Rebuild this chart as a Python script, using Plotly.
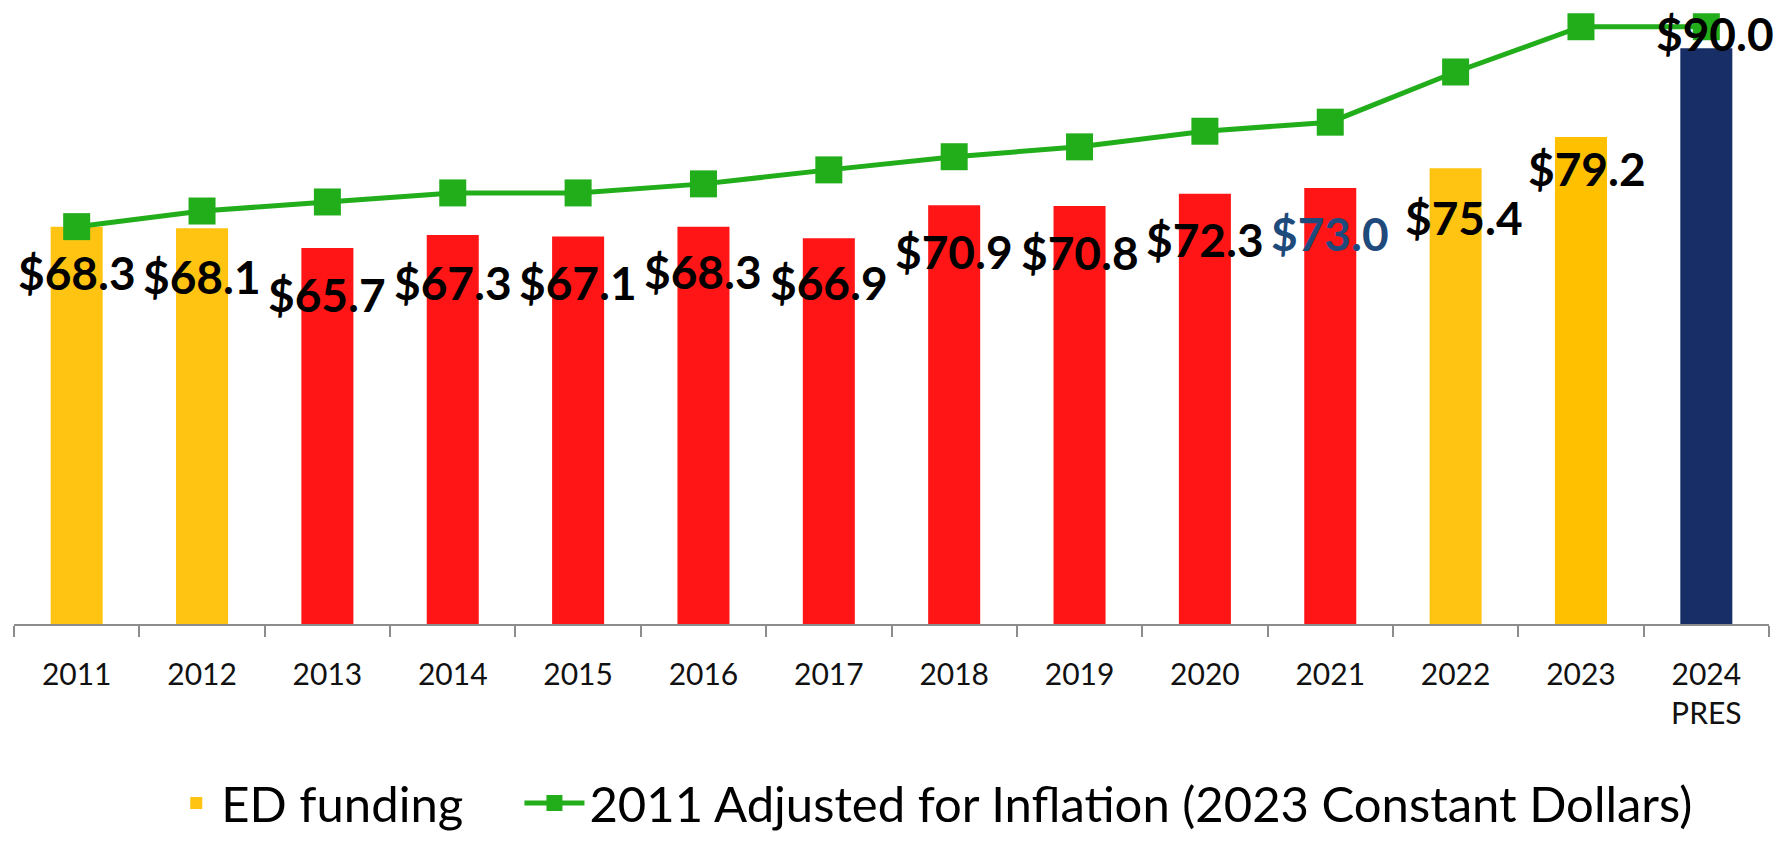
import plotly.graph_objects as go

years = ["2011", "2012", "2013", "2014", "2015", "2016", "2017",
         "2018", "2019", "2020", "2021", "2022", "2023", "2024<br>PRES"]
ed_funding = [68.3, 68.1, 65.7, 67.3, 67.1, 68.3, 66.9,
              70.9, 70.8, 72.3, 73.0, 75.4, 79.2, 90.0]
adjusted_2011 = [68.3, 70.2, 71.3, 72.4, 72.4, 73.5, 75.2,
                 76.8, 78.0, 79.9, 81.0, 87.1, 92.6, 92.6]

# styling
GOLD, RED, NAVY = "#FFC312", "#FF1515", "#172F66"
bar_colors = [GOLD, GOLD, RED, RED, RED, RED, RED, RED, RED, RED, RED, GOLD, "#FFC000", NAVY]
label_colors = ["#000000"] * 10 + ["#1F4A7C"] + ["#000000"] * 3
label_yshift = [-46, -48, -46, -48, -46, -45, -44, -46, -46, -46, -46, -49, -32, 15]
label_xshift = [0, 0, 0, 0, 0, 0, 0, 0, 0, 0, 0, 8, 6, 9]
FONT = "Lato"

fig = go.Figure()
fig.add_trace(go.Bar(
    x=years, y=ed_funding, name="ED funding",
    marker=dict(color=bar_colors, line=dict(width=0)),
    legend="legend",
))
fig.add_trace(go.Scatter(
    x=years, y=adjusted_2011, mode="lines+markers",
    name="2011 Adjusted for Inflation (2023 Constant Dollars)",
    line=dict(color="#22AD1B", width=5),
    marker=dict(symbol="square", size=27, color="#22AD1B"),
    legend="legend2",
))

for i, v in enumerate(ed_funding):
    fig.add_annotation(
        x=i, y=v, text=f"<b>${v:.1f}</b>", showarrow=False,
        xanchor="center", yanchor="middle",
        yshift=label_yshift[i], xshift=label_xshift[i],
        font=dict(family=FONT, size=46, color=label_colors[i]),
    )

legend_font = dict(family=FONT, size=49, color="#000000")
fig.update_layout(
    width=1784, height=841,
    margin=dict(l=14, r=15, t=7, b=217, autoexpand=False),
    paper_bgcolor="white", plot_bgcolor="white",
    bargap=0.585,
    showlegend=True,
    legend=dict(
        orientation="h", x=0.0896, xanchor="left",
        yref="container", y=0.045, yanchor="middle",
        font=legend_font, itemwidth=40,
    ),
    legend2=dict(
        orientation="h", x=0.288, xanchor="left",
        yref="container", y=0.045, yanchor="middle",
        font=legend_font, itemwidth=60,
    ),
    font=dict(family=FONT),
)
fig.update_xaxes(
    type="category", range=[-0.5, 13.5],
    showline=True, linecolor="#8C8C8C", linewidth=1.5,
    ticks="outside", tickson="boundaries", ticklen=11, tickcolor="#8C8C8C", tickwidth=1.5,
    tickfont=dict(family=FONT, size=30, color="#111111"),
    ticklabelstandoff=23, tickangle=0,
    showgrid=False,
)
fig.update_yaxes(
    range=[20, 95], showgrid=False, zeroline=False,
    showticklabels=False, showline=False, ticks="",
)

fig.write_html(
    "out.html",
    config={"displayModeBar": False},
    post_script="document.body.style.margin='0';document.body.style.overflow='hidden';",
)
